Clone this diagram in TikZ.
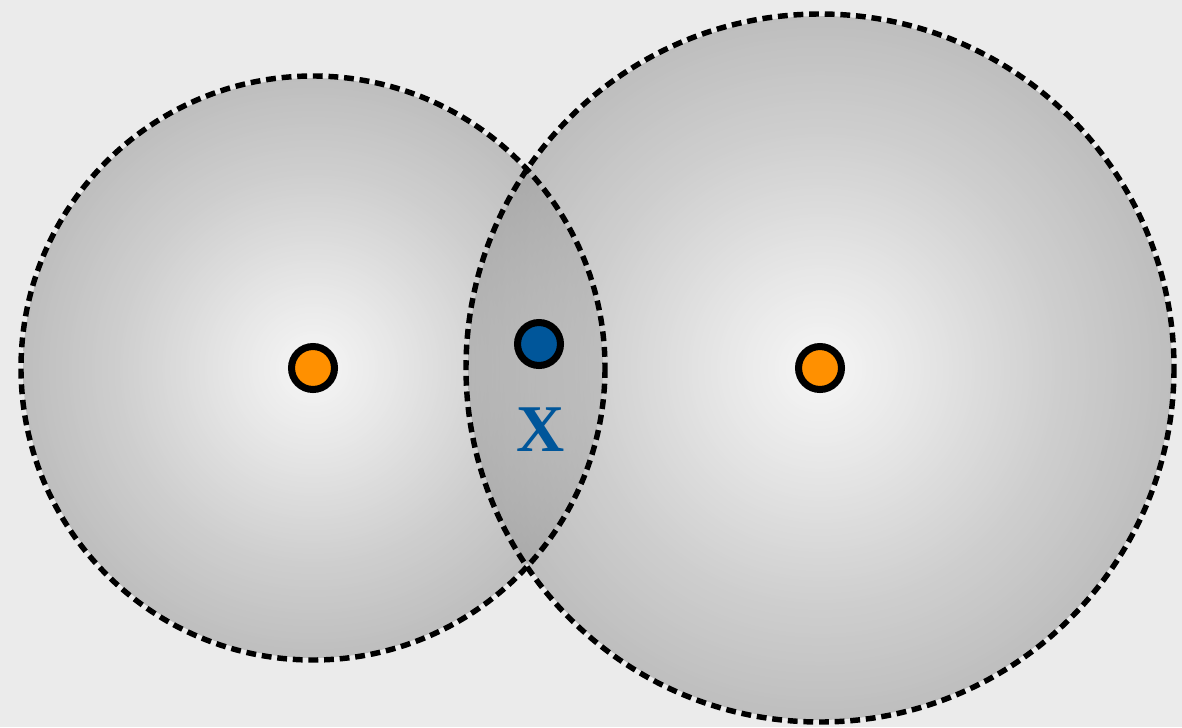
\documentclass[tikz,border=0pt]{standalone}
\usepackage{fontspec}
\setmainfont{Liberation Serif}
\definecolor{bgc}{HTML}{EBEBEB}
\definecolor{ringA}{HTML}{E4E4E4}
\definecolor{ringB}{HTML}{B8B8B8}
\definecolor{ringC}{HTML}{8A8A8A}
\definecolor{ringD}{HTML}{7E7E7E}
\definecolor{dotorange}{HTML}{FF9000}
\definecolor{dotblue}{HTML}{00569A}
\pgfdeclareradialshading{zone}{\pgfpoint{0bp}{0bp}}{color(0bp)=(white); color(7bp)=(ringA); color(17bp)=(ringB); color(30bp)=(ringC); color(35.4bp)=(ringD); color(50bp)=(ringD)}
\tikzset{
  zonecircle/.style={circle, inner sep=0pt, shading=zone, fill opacity=0.56},
  zoneborder/.style={draw=black, line width=3.1pt, dash pattern=on 5.6pt off 3.3pt},
  sitedot/.style={circle, inner sep=0pt, minimum size=0.86cm, draw=black, line width=4pt, fill=dotorange},
  querydot/.style={sitedot, fill=dotblue},
  qlabel/.style={text=dotblue, font=\fontsize{38}{40}\selectfont\bfseries, inner sep=0pt}
}
\begin{document}
\begin{tikzpicture}[x=0.02cm, y=-0.02cm]
\fill[bgc] (0,0) rectangle (1182,727);
\useasboundingbox (0,0) rectangle (1182,727);
\node[zonecircle, minimum size=11.6cm] (zoneA) at (313,368) {};
\node[zonecircle, minimum size=14.08cm] (zoneB) at (820,368) {};
\draw[zoneborder] (zoneA.center) circle[radius=292];
\draw[zoneborder] (zoneB.center) circle[radius=354];
\node[sitedot] (siteA) at (313,368) {};
\node[sitedot] (siteB) at (820,368) {};
\node[querydot] (query) at (539,344) {};
\node[qlabel] (qx) at (541,430) {X};
\end{tikzpicture}
\end{document}
